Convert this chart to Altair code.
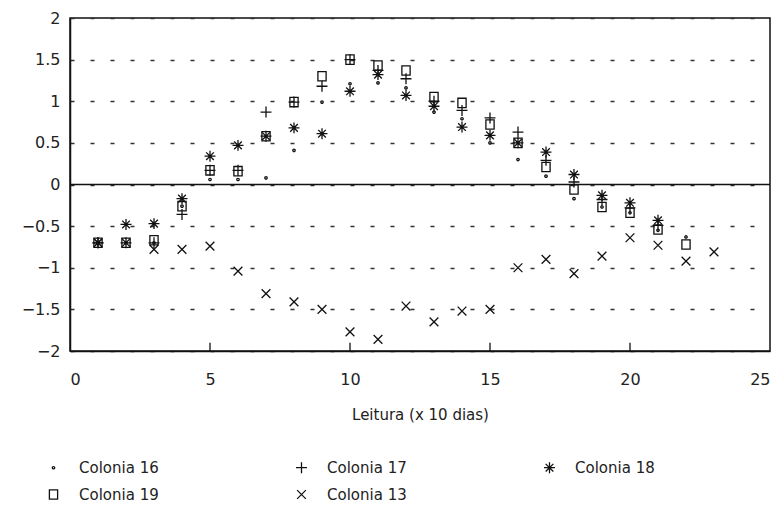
import altair as alt
import pandas as pd

# Reading number (x 10 days)
x_vals = list(range(1, 24))

# Series values
col16 = [-0.70, -0.70, -0.70, -0.26, 0.06, 0.06, 0.08, 0.41, 0.99, 1.21, 1.22, 1.16,
         0.87, 0.79, 0.50, 0.30, 0.10, -0.17, -0.27, -0.34, -0.55, -0.63, None]
col17 = [-0.70, -0.70, -0.70, -0.36, 0.17, 0.17, 0.87, 0.99, 1.18, 1.50, 1.37, 1.27,
         1.00, 0.89, 0.80, 0.63, 0.29, 0.03, -0.18, -0.28, -0.49, None, None]
col18 = [-0.70, -0.48, -0.47, -0.17, 0.34, 0.47, 0.58, 0.68, 0.61, 1.12, 1.32, 1.07,
         0.94, 0.69, 0.59, 0.50, 0.39, 0.12, -0.13, -0.22, -0.43, None, None]
col19 = [-0.70, -0.70, -0.67, -0.26, 0.17, 0.16, 0.58, 0.99, 1.30, 1.50, 1.43, 1.37,
         1.05, 0.98, 0.72, 0.50, 0.21, -0.06, -0.27, -0.34, -0.54, -0.72, None]
col13 = [-0.70, -0.70, -0.78, -0.78, -0.74, -1.04, -1.31, -1.41, -1.50, -1.77, -1.86, -1.46,
         -1.65, -1.52, -1.50, -1.00, -0.90, -1.07, -0.86, -0.64, -0.73, -0.92, -0.81]

series_names = ["Colonia 16", "Colonia 17", "Colonia 18", "Colonia 19", "Colonia 13"]
series_values = [col16, col17, col18, col19, col13]

x_ticks = [0, 5, 10, 15, 20, 25]
inner_ticks = [5, 10, 15, 20]
y_ticks = [-2, -1.5, -1, -0.5, 0, 0.5, 1, 1.5, 2]
zero_line = [0]

rows = []
for name, vals in zip(series_names, series_values):
    for xv, yv in zip(x_vals, vals):
        if yv is not None:
            rows.append({"x": xv, "y": yv, "serie": name})
df = pd.DataFrame(rows)

shape_paths = [
    "M-0.22,0A0.22,0.22 0 1,0 0.22,0A0.22,0.22 0 1,0 -0.22,0Z",          # dot
    "M-1,0L1,0M0,-1L0,1",                                              # plus
    "M-1,0L1,0M0,-1L0,1M-0.7,-0.7L0.7,0.7M-0.7,0.7L0.7,-0.7",          # asterisk
    "M-0.75,-0.85L0.75,-0.85L0.75,0.85L-0.75,0.85Z",                   # square
    "M-0.8,-0.8L0.8,0.8M-0.8,0.8L0.8,-0.8",                            # x
]

xscale = alt.Scale(domain=[0, 25], nice=False, zero=False)
yscale = alt.Scale(domain=[-2, 2], nice=False, zero=False)

points = alt.Chart(df).mark_point(
    filled=False, color="#111", strokeWidth=1.3, size=120, opacity=1
).encode(
    x=alt.X("x:Q", scale=xscale,
            axis=alt.Axis(values=x_ticks, format="d", title="Leitura (x 10 dias)",
                          ticks=False, grid=False, labelPadding=20, titlePadding=20,
                          labelFont="DejaVu Sans", labelFontSize=16, labelColor="#222",
                          titleFont="DejaVu Sans", titleFontSize=15, titleColor="#222",
                          titleFontWeight="normal",
                          domain=True, domainColor="#111", domainWidth=1.5)),
    y=alt.Y("y:Q", scale=yscale,
            axis=alt.Axis(values=y_ticks, format="~g", title=None, ticks=False,
                          labelFont="DejaVu Sans", labelFontSize=16, labelColor="#222",
                          grid=True, gridDash=[4, 16], gridColor="#333", gridWidth=1.3,
                          labelPadding=10, domain=True, domainColor="#111", domainWidth=1.5)),
    shape=alt.Shape("serie:N",
                    scale=alt.Scale(domain=series_names, range=shape_paths),
                    legend=alt.Legend(title=None, orient="none", legendX=-24, legendY=442,
                                      columns=3, direction="horizontal", columnPadding=134,
                                      rowPadding=11, labelFontSize=15, labelFont="DejaVu Sans",
                                      labelColor="#222", symbolSize=120,
                                      symbolStrokeColor="#111", symbolStrokeWidth=1.3,
                                      symbolFillColor="transparent", labelOffset=18, padding=0)),
)

zero = alt.Chart(pd.DataFrame({"y": zero_line})).mark_rule(
    color="#111", strokeWidth=1.5
).encode(y=alt.Y("y:Q", scale=yscale))

ticks = alt.Chart(pd.DataFrame({"x": inner_ticks, "y": [-2] * len(inner_ticks),
                                "y2": [-1.9] * len(inner_ticks)})).mark_rule(
    color="#111", strokeWidth=1.3
).encode(x=alt.X("x:Q", scale=xscale), y=alt.Y("y:Q", scale=yscale), y2="y2:Q")

chart = alt.layer(zero, ticks, points).properties(
    width=700, height=333,
    background="white",
    autosize=alt.AutoSizeParams(type="none"),
    padding={"left": 62, "top": 10, "right": 3, "bottom": 154},
).configure_view(
    stroke="#111", strokeWidth=1.5
)

chart.save("out.html", embed_options={"renderer": "svg", "actions": False})
